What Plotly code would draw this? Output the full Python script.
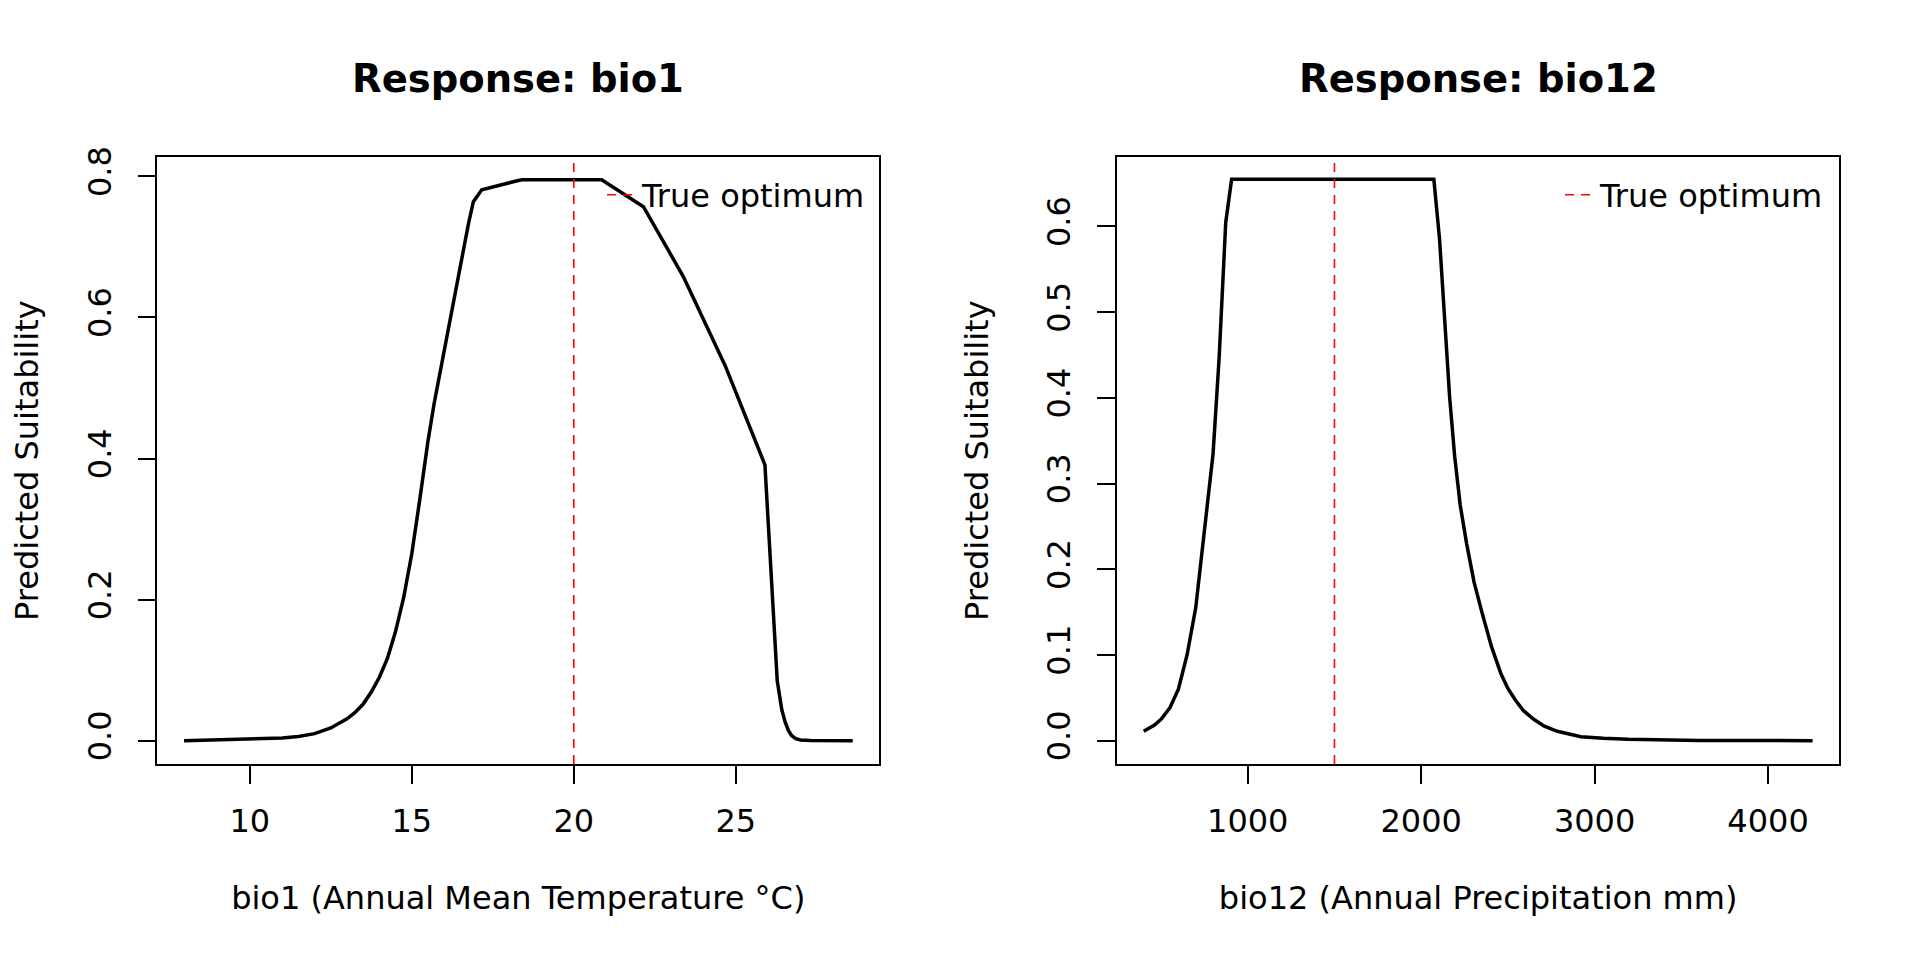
import plotly.graph_objects as go
from plotly.subplots import make_subplots

# response curve bio1
bio1_x = [7.97, 9.0, 10.0, 11.0, 11.5, 12.0, 12.5, 13.0, 13.25, 13.5, 13.75, 14.0, 14.25, 14.5, 14.75,
          15.0, 15.25, 15.5, 15.69, 16.18, 16.49, 16.75, 16.9, 17.16, 18.19, 18.4, 20.86,
          22.15, 23.38, 24.67, 25.9, 26.28, 26.42, 26.52, 26.62, 26.72, 26.85, 27.0, 27.3,
          27.6, 28.61]
bio1_y = [0.000, 0.001, 0.002, 0.004, 0.006, 0.010, 0.018, 0.031, 0.040, 0.052, 0.069, 0.090, 0.117,
          0.155, 0.203, 0.265, 0.343, 0.425, 0.478, 0.599, 0.672, 0.733, 0.764, 0.781, 0.793,
          0.795, 0.795, 0.757, 0.658, 0.532, 0.391, 0.085, 0.044, 0.027, 0.015, 0.0074, 0.003,
          0.001, 0.0003, 0.0, 0.0]

# response curve bio12
bio12_x = [400, 430, 460, 500, 550, 600, 650, 700, 750, 800, 835, 860, 873, 907, 2073, 2106, 2135,
           2164, 2193, 2225, 2262, 2305, 2350, 2405, 2460, 2500, 2541, 2590, 2649, 2710, 2785, 2850,
           2921, 3050, 3193, 3600, 4000, 4257]
bio12_y = [0.011, 0.014, 0.018, 0.025, 0.038, 0.060, 0.100, 0.155, 0.245, 0.335, 0.447, 0.540, 0.605,
           0.655, 0.655, 0.585, 0.493, 0.401, 0.332, 0.275, 0.230, 0.185, 0.150, 0.110, 0.078, 0.061,
           0.048, 0.035, 0.025, 0.017, 0.011, 0.0075, 0.0047, 0.0028, 0.0016, 0.0003, 0.0, 0.0]

bio1_opt = 20
bio12_opt = 1500

# axis ranges (R style, 4% padding)
bio1_xr = [7.145, 29.43]
bio1_yr = [-0.033, 0.827]
bio12_xr = [246, 4411]
bio12_yr = [-0.0272, 0.6807]

# page body has an 8px margin, so the figure is a bit smaller and positions shifted
OFF = 8
W, H = 1920 - 2 * OFF, 960 - 2 * OFF
font = "DejaVu Sans"
fs = 32


def px(v):
    return (v - OFF) / W


def py(v):
    return 1 - (v - OFF) / H


fig = make_subplots(rows=1, cols=2)

fig.add_trace(go.Scatter(x=bio1_x, y=bio1_y, mode="lines", line=dict(color="black", width=3.5),
                         showlegend=False), row=1, col=1)
fig.add_trace(go.Scatter(x=[bio1_opt, bio1_opt], y=bio1_yr, mode="lines", name="True optimum",
                         line=dict(color="red", width=1.6, dash="9px,7px"), legend="legend"),
              row=1, col=1)

fig.add_trace(go.Scatter(x=bio12_x, y=bio12_y, mode="lines", line=dict(color="black", width=3.5),
                         showlegend=False), row=1, col=2)
fig.add_trace(go.Scatter(x=[bio12_opt, bio12_opt], y=bio12_yr, mode="lines", name="True optimum",
                         line=dict(color="red", width=1.6, dash="9px,7px"), legend="legend2"),
              row=1, col=2)

axis_style = dict(showline=True, mirror=True, linecolor="black", linewidth=1.6,
                  ticks="outside", ticklen=18, tickwidth=1.6, tickcolor="black",
                  showgrid=False, zeroline=False, automargin=False,
                  tickfont=dict(family=font, size=fs, color="black"))
title_font = dict(family=font, size=fs, color="black")

ydom = [py(764), py(157.3)]
fig.update_xaxes(ticklabelstandoff=10, **axis_style)
fig.update_yaxes(ticklabelstandoff=14, **axis_style)

fig.update_layout(
    xaxis=dict(domain=[px(157.3), px(879.3)], range=bio1_xr, tick0=0, dtick=5,
               title=dict(text="bio1 (Annual Mean Temperature °C)", standoff=47, font=title_font)),
    yaxis=dict(domain=ydom, range=bio1_yr, dtick=0.2, tickformat=".1f", tickangle=-90,
               title=dict(text="Predicted Suitability", standoff=42, font=title_font)),
    xaxis2=dict(domain=[px(1117), px(1839.3)], range=bio12_xr, tick0=0, dtick=1000, tickformat="d",
                title=dict(text="bio12 (Annual Precipitation mm)", standoff=47, font=title_font)),
    yaxis2=dict(domain=ydom, range=bio12_yr, dtick=0.1, tickformat=".1f", tickangle=-90,
                title=dict(text="Predicted Suitability", standoff=42, font=title_font)),
    legend=dict(x=px(646 - 44), xanchor="left", y=py(195), yanchor="middle",
                bgcolor="rgba(0,0,0,0)", font=dict(family=font, size=fs, color="black")),
    legend2=dict(x=px(1604 - 44), xanchor="left", y=py(195), yanchor="middle",
                 bgcolor="rgba(0,0,0,0)", font=dict(family=font, size=fs, color="black")),
    width=W, height=H,
    margin=dict(l=0, r=0, t=0, b=0),
    paper_bgcolor="white", plot_bgcolor="white",
    font=dict(family=font, color="black"),
)

# panel titles
for cx, label in [((157.3 + 879.3) / 2, "bio1"), ((1117 + 1839.3) / 2, "bio12")]:
    fig.add_annotation(x=px(cx), y=py(79), xref="paper", yref="paper", showarrow=False,
                       xanchor="center", yanchor="middle",
                       text=f"<b>Response: {label}</b>",
                       font=dict(family=font, size=38.5, color="black"))

fig.write_html("out.html")
